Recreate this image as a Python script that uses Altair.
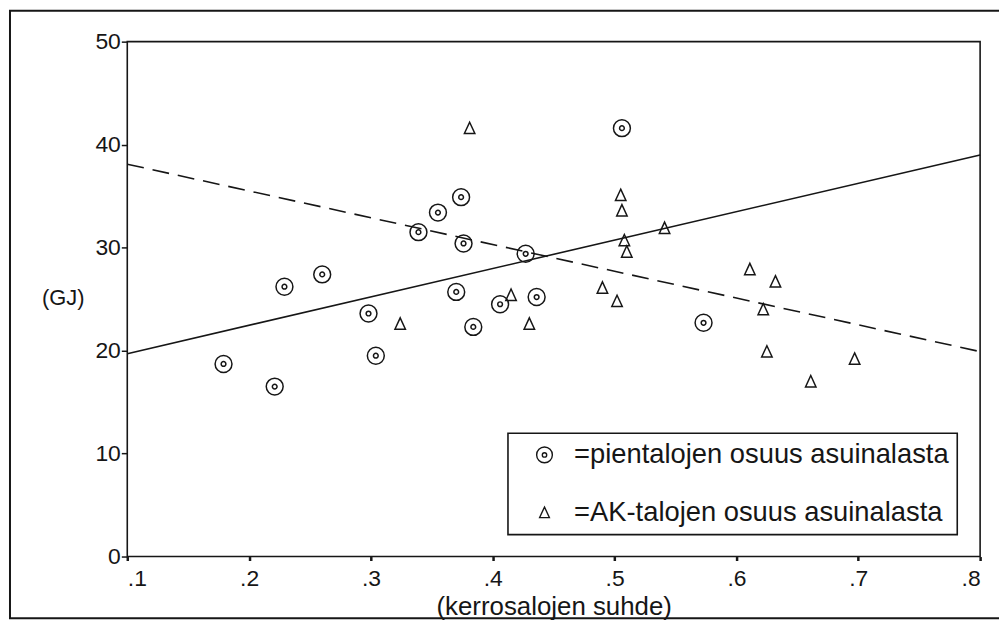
import altair as alt
import pandas as pd

# ---- data ----
pien_label = "=pientalojen osuus asuinalasta"
ak_label = "=AK-talojen osuus asuinalasta"

pien_x = [0.179, 0.221, 0.229, 0.260, 0.298, 0.304, 0.339, 0.355, 0.374, 0.376,
          0.370, 0.384, 0.406, 0.427, 0.436, 0.506, 0.573]
pien_y = [18.7, 16.5, 26.2, 27.4, 23.6, 19.5, 31.5, 33.4, 34.9, 30.4,
          25.7, 22.3, 24.5, 29.4, 25.2, 41.6, 22.7]

ak_x = [0.324, 0.381, 0.415, 0.430, 0.490, 0.502, 0.505, 0.506, 0.508, 0.510,
        0.541, 0.611, 0.622, 0.625, 0.632, 0.661, 0.697]
ak_y = [22.6, 41.6, 25.4, 22.6, 26.1, 24.8, 35.1, 33.6, 30.7, 29.6,
        31.9, 27.9, 24.0, 19.9, 26.7, 17.0, 19.2]

solid_x = [0.1, 0.8]
solid_y = [19.7, 39.0]
dashed_x = [0.1, 0.8]
dashed_y = [38.1, 19.9]

x_ticks = [0.1, 0.2, 0.3, 0.4, 0.5, 0.6, 0.7, 0.8]
y_ticks = [0, 10, 20, 30, 40, 50]

FONT = "Liberation Sans"
INK = "#161616"

pts = pd.DataFrame({
    "x": pien_x + ak_x,
    "y": pien_y + ak_y,
    "series": [pien_label] * len(pien_x) + [ak_label] * len(ak_x),
})
solid_df = pd.DataFrame({"x": solid_x, "y": solid_y})
dashed_df = pd.DataFrame({"x": dashed_x, "y": dashed_y})

bull = ("M-1,0A1,1,0,1,1,1,0A1,1,0,1,1,-1,0Z "
        "M-0.28,0A0.28,0.28,0,1,1,0.28,0A0.28,0.28,0,1,1,-0.28,0Z")
tri = "M0,-0.7L0.62,0.64L-0.62,0.64Z"

xscale = alt.Scale(domain=[0.1, 0.8], nice=False, zero=False)
yscale = alt.Scale(domain=[0, 50], nice=False)

x_enc = alt.X(
    "x:Q", scale=xscale,
    axis=alt.Axis(
        values=x_ticks,
        labelExpr="substring(format(datum.value, '.1f'), 1)",
        tickSize=4, tickWidth=2.5, labelPadding=7,
        title="(kerrosalojen suhde)", titleFontSize=26,
        titleY=58, titleBaseline="alphabetic",
    ),
)
y_enc = alt.Y(
    "y:Q", scale=yscale,
    axis=alt.Axis(
        values=y_ticks, tickSize=6, labelPadding=1,
        title="(GJ)", titleAngle=0, titleX=-65, titleY=257,
        titleAlign="center", titleBaseline="middle", titleFontSize=22,
    ),
)

frame_df = pd.DataFrame({"k": [0]})
frame_top = alt.Chart(frame_df).mark_rule(color=INK, strokeWidth=2).encode(
    x=alt.value(-119), x2=alt.value(877), y=alt.value(-31))
frame_bottom = alt.Chart(frame_df).mark_rule(color=INK, strokeWidth=2).encode(
    x=alt.value(-119), x2=alt.value(877), y=alt.value(580))
frame_left = alt.Chart(frame_df).mark_rule(color=INK, strokeWidth=2).encode(
    x=alt.value(-118), y=alt.value(-31), y2=alt.value(580))

solid = alt.Chart(solid_df).mark_line(color=INK, strokeWidth=1.6).encode(
    x=x_enc, y=y_enc)
dashed = alt.Chart(dashed_df).mark_line(
    color=INK, strokeWidth=1.6, strokeDash=[17, 9]).encode(x=x_enc, y=y_enc)

points = alt.Chart(pts).mark_point(
    filled=False, size=289, strokeWidth=1.5, opacity=1, color=INK
).encode(
    x=x_enc, y=y_enc,
    shape=alt.Shape(
        "series:N",
        scale=alt.Scale(domain=[pien_label, ak_label], range=[bull, tri]),
        legend=alt.Legend(
            title=None, orient="none", legendX=383, legendY=394,
            padding=8, symbolOffset=15, labelOffset=16, rowPadding=29,
            labelFontSize=27.5, labelLimit=700, symbolSize=250,
            symbolStrokeColor=INK, symbolStrokeWidth=1.4,
            strokeColor=INK,
        ),
    ),
)

chart = alt.layer(frame_top, frame_bottom, frame_left, solid, dashed, points).properties(
    width=858, height=518,
    padding={"left": 120, "top": 32, "right": 19, "bottom": 63},
    autosize=alt.AutoSizeParams(type="none"),
    background="white",
).configure_view(
    stroke=INK, strokeWidth=1.6,
).configure_axis(
    grid=False, domain=False,
    labelFont=FONT, labelFontSize=23, labelColor=INK,
    titleFont=FONT, titleFontWeight="normal", titleColor=INK,
    tickColor=INK, tickWidth=1.5,
).configure_legend(
    labelFont=FONT, labelColor=INK, strokeWidth=1.6,
)

chart.save("out.html", embed_options={"renderer": "svg", "actions": False})
